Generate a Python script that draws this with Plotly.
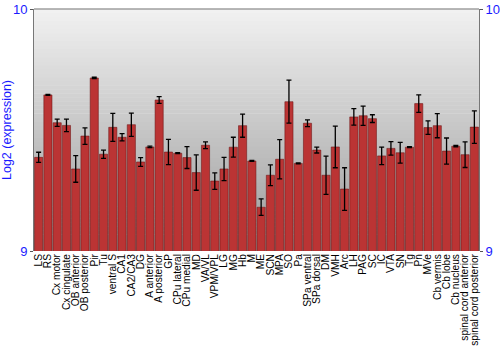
import plotly.graph_objects as go

categories = ["LS", "RS", "Cx motor", "Cx cingulate", "OB anterior", "OB posterior", "Pir", "Tu",
              "ventral S", "CA1", "CA2/CA3", "DG", "A anterior", "A posterior", "GP", "CPu lateral",
              "CPu medial", "MD", "VA/VL", "VPM/VPL", "LG", "MG", "Hb", "M", "ME", "SCN", "MPA", "SO",
              "Pa", "SPa ventral", "SPa dorsal", "DM", "VMH", "Arc", "LH", "PAG", "SC", "IC", "VTA",
              "SN", "Tg", "Pn", "MVe", "Cb vermis", "Cb lobe", "Cb nucleus",
              "spinal cord anterior", "spinal cord posterior"]

values = [9.387, 9.645, 9.530, 9.519, 9.339, 9.475, 9.715, 9.400,
          9.511, 9.470, 9.522, 9.368, 9.430, 9.624, 9.409, 9.404,
          9.386, 9.324, 9.437, 9.289, 9.339, 9.429, 9.518, 9.372,
          9.181, 9.313, 9.379, 9.617, 9.362, 9.528, 9.417, 9.313,
          9.430, 9.256, 9.554, 9.559, 9.547, 9.393, 9.424, 9.406,
          9.429, 9.609, 9.510, 9.518, 9.413, 9.433, 9.398, 9.512]

errors = [0.021, 0.002, 0.015, 0.026, 0.055, 0.034, 0.003, 0.017,
          0.058, 0.015, 0.048, 0.018, 0.003, 0.014, 0.052, 0.002,
          0.045, 0.073, 0.014, 0.034, 0.048, 0.041, 0.048, 0.002,
          0.034, 0.043, 0.081, 0.089, 0.002, 0.014, 0.012, 0.079,
          0.086, 0.088, 0.034, 0.040, 0.016, 0.036, 0.028, 0.043,
          0.002, 0.036, 0.028, 0.050, 0.054, 0.003, 0.053, 0.067]

y_min, y_max = 9, 10
y_ticks = [9, 10]

fig = go.Figure()
fig.add_trace(go.Bar(
    x=categories, y=values,
    marker=dict(color="#bb3434", line=dict(color="rgba(110,20,20,0.55)", width=1)),
    error_y=dict(type="data", array=errors, color="black", thickness=1.3, width=2.5),
    showlegend=False,
))
# invisible trace to keep the right-hand axis drawn
fig.add_trace(go.Scatter(x=[categories[0]], y=[y_min], yaxis="y2", mode="markers",
                         marker=dict(opacity=0), showlegend=False, hoverinfo="skip"))

# vertical gradient background
n = 60
shapes = []
for i in range(n):
    f0 = i / n
    f1 = (i + 1) / n
    g = int(155 + (242 - 155) * (f0 + f1) / 2)
    shapes.append(dict(type="rect", xref="paper", yref="paper", x0=0, x1=1, y0=f0, y1=f1 + 0.002,
                       fillcolor=f"rgb({g},{g},{g})", line=dict(width=0), layer="below"))

fig.update_layout(
    width=500, height=350,
    margin=dict(l=34, r=21, t=9, b=99),
    paper_bgcolor="white", plot_bgcolor="white",
    shapes=shapes,
    bargap=0.12,
    font=dict(family="Liberation Sans, Arial, sans-serif"),
    xaxis=dict(tickangle=-90, tickfont=dict(size=10.2, color="black"), showgrid=False,
               tickmode="array", tickvals=categories, ticktext=categories,
               ticks="", showline=False, range=[-0.5, len(categories) - 0.5], fixedrange=True,
               automargin=False),
    yaxis=dict(range=[y_min, y_max], tickvals=y_ticks, ticktext=[str(t) for t in y_ticks],
               tickfont=dict(size=13, color="#1a1aff"), ticks="outside", ticklen=3,
               tickcolor="#555", showgrid=False, showline=True, linecolor="#777", linewidth=1,
               mirror=False, zeroline=False, automargin=False,
               title=dict(text="Log2 (expression)", font=dict(size=12.5, color="#1a1aff"), standoff=4)),
    yaxis2=dict(range=[y_min, y_max], tickvals=y_ticks, ticktext=[str(t) for t in y_ticks],
                overlaying="y", side="right", tickfont=dict(size=13, color="#1a1aff"),
                ticks="outside", ticklen=3, tickcolor="#555", showgrid=False, showline=True,
                linecolor="#777", linewidth=1, zeroline=False, automargin=False),
)
fig.add_shape(type="line", xref="paper", yref="paper", x0=0, x1=1, y0=1, y1=1,
              line=dict(color="#777", width=1))

fig.write_html("out.html")
